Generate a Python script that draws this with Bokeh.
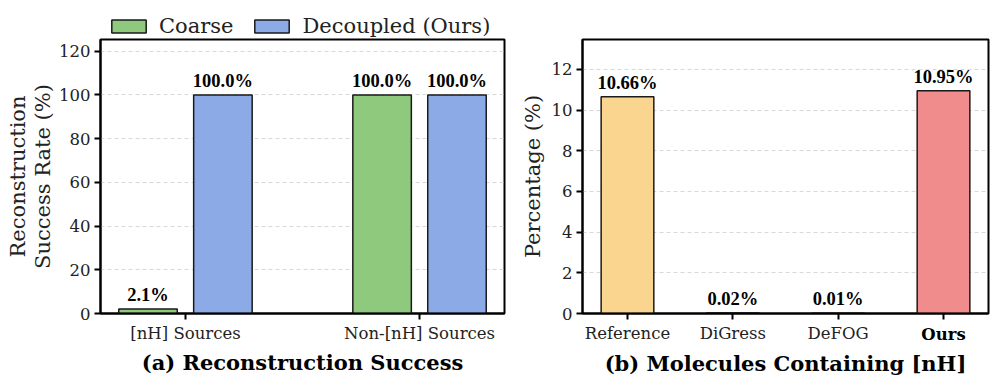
from bokeh.plotting import figure
from bokeh.models import (ColumnDataSource, Range1d, FixedTicker, LabelSet, Legend,
                          LegendItem, Title, LinearAxis)
from bokeh.layouts import row, column
from bokeh.embed import file_html
from bokeh.resources import INLINE

# ---- data ----
groups = ["[nH] Sources", "Non-[nH] Sources"]
coarse = [2.1, 100.0]
decoupled = [100.0, 100.0]

methods = ["Reference", "DiGress", "DeFOG", "Ours"]
percent = [10.66, 0.02, 0.01, 10.95]

yticks_a = [0, 20, 40, 60, 80, 100, 120]
yticks_b = [0, 2, 4, 6, 8, 10, 12]

GREEN = "#8fc97e"
BLUE = "#8cabe6"
YELLOW = "#f9d590"
RED = "#f08c8c"
method_colors = [YELLOW, "#aaaaaa", "#aaaaaa", RED]

FONT = "DejaVu Serif"
EDGE = "#1a1a1a"
TICK_FS = "16.5px"
VAL_FS = "18.5px"


def style(p):
    p.outline_line_color = "black"
    p.outline_line_width = 2
    p.outline_line_alpha = 1
    for ax in (p.xaxis[0], p.yaxis[0]):
        ax.axis_line_width = 2
        ax.axis_line_color = "black"
        ax.major_tick_out = 6
        ax.major_tick_in = 0
        ax.major_tick_line_width = 2
        ax.minor_tick_out = 0
        ax.minor_tick_in = 0
        ax.major_label_standoff = 4
        ax.major_label_text_font = FONT
        ax.major_label_text_font_size = TICK_FS
        ax.major_label_text_color = "#222222"
        ax.axis_label_text_font = FONT
        ax.axis_label_text_font_size = "21px"
        ax.axis_label_text_line_height = 1.05
        ax.axis_label_standoff = 1
        ax.axis_label_text_font_style = "normal"
        ax.axis_label_text_color = "#222222"
    p.xgrid.visible = False
    p.ygrid.grid_line_color = "#d0d0d0"
    p.ygrid.grid_line_dash = "4 3"
    p.ygrid.grid_line_alpha = 0.8
    p.ygrid.grid_line_width = 1
    p.background_fill_color = "white"
    p.border_fill_color = "white"


idx_a = list(range(len(groups)))
off = 0.16
src_c = ColumnDataSource(dict(x=[i - off for i in idx_a], top=coarse,
                              lab=[f"{v:.1f}%" for v in coarse]))
src_d = ColumnDataSource(dict(x=[i + off for i in idx_a], top=decoupled,
                              lab=[f"{v:.1f}%" for v in decoupled]))

# ---- legend strip above panel (a) (hidden renderers, legend only) ----
lf = figure(width=508, height=38, output_backend="svg", toolbar_location=None,
            x_axis_type=None, y_axis_type=None, x_range=Range1d(-0.363, 1.363),
            y_range=Range1d(0, 125.4), min_border=0)
lf.outline_line_color = None
lf.xgrid.visible = False
lf.ygrid.visible = False
lg_c = lf.vbar(x="x", top="top", width=0.25, source=src_c, fill_color=GREEN,
               line_color=EDGE, line_width=1.5, visible=False)
lg_d = lf.vbar(x="x", top="top", width=0.25, source=src_d, fill_color=BLUE,
               line_color=EDGE, line_width=1.5, visible=False)
leg = Legend(items=[LegendItem(label="Coarse", renderers=[lg_c]),
                    LegendItem(label="Decoupled (Ours)", renderers=[lg_d])],
             orientation="horizontal", location=(7, 0),
             glyph_width=43, glyph_height=16, label_standoff=9, spacing=17,
             padding=0, margin=0, border_line_alpha=0, background_fill_alpha=0,
             inactive_fill_alpha=0, click_policy="none",
             label_text_font=FONT, label_text_font_size="21px",
             label_text_color="#222222")
lf.add_layout(leg, "center")

# ---- panel (a) ----
pa = figure(width=508, height=342, output_backend="svg", toolbar_location=None,
            x_range=Range1d(-0.363, 1.363), y_range=Range1d(0, 125.4),
            min_border_left=100, min_border_right=4, min_border_top=1,
            min_border_bottom=67)
style(pa)
pa.vbar(x="x", top="top", width=0.25, source=src_c, fill_color=GREEN,
        line_color=EDGE, line_width=1.5)
pa.vbar(x="x", top="top", width=0.25, source=src_d, fill_color=BLUE,
        line_color=EDGE, line_width=1.5)
for s in (src_c, src_d):
    pa.add_layout(LabelSet(x="x", y="top", text="lab", source=s, y_offset=8,
                           text_align="center", text_baseline="alphabetic",
                           text_font=FONT, text_font_style="bold",
                           text_font_size=VAL_FS, text_color="black"))
pa.xaxis.ticker = FixedTicker(ticks=idx_a)
pa.xaxis.major_label_overrides = {i: g for i, g in enumerate(groups)}
pa.yaxis.ticker = FixedTicker(ticks=yticks_a)
pa.yaxis.axis_label = "Reconstruction\nSuccess Rate (%)"
pa.add_layout(Title(text="(a) Reconstruction Success", align="center", standoff=4,
                    text_font=FONT, text_font_style="bold",
                    text_font_size="21px", text_color="black"), "below")

# ---- panel (b) ----
pb = figure(width=484, height=380, output_backend="svg", toolbar_location=None,
            x_range=Range1d(-0.427, 3.427), y_range=Range1d(0, 13.47),
            min_border_left=74, min_border_right=4, min_border_top=39,
            min_border_bottom=67)
style(pb)
pb.yaxis.axis_label_standoff = 4
idx_b = list(range(len(methods)))
src_b = ColumnDataSource(dict(x=idx_b, top=percent, color=method_colors,
                              lab=[f"{v:.2f}%" for v in percent]))
pb.vbar(x="x", top="top", width=0.5, source=src_b, fill_color="color",
        line_color=EDGE, line_width=1.5)
pb.add_layout(LabelSet(x="x", y="top", text="lab", source=src_b, y_offset=8,
                       text_align="center", text_baseline="alphabetic",
                       text_font=FONT, text_font_style="bold",
                       text_font_size=VAL_FS, text_color="black"))
pb.xaxis.ticker = FixedTicker(ticks=idx_b)
overrides = {i: m for i, m in enumerate(methods)}
overrides[3] = ""
pb.xaxis.major_label_overrides = overrides
# bold label for the last category, lifted onto the same line as the others
bold_axis = LinearAxis(ticker=FixedTicker(ticks=[3]),
                       major_label_overrides={3: methods[3]},
                       axis_line_color=None, major_tick_line_color=None,
                       minor_tick_line_color=None, major_tick_out=0,
                       major_tick_in=0, minor_tick_out=0, minor_tick_in=0,
                       major_label_standoff=-21,
                       major_label_text_font=FONT,
                       major_label_text_font_style="bold",
                       major_label_text_font_size=TICK_FS,
                       major_label_text_color="black")
pb.add_layout(bold_axis, "below")
pb.yaxis.ticker = FixedTicker(ticks=yticks_b)
pb.yaxis.axis_label = "Percentage (%)"
pb.add_layout(Title(text="(b) Molecules Containing [nH]", align="center", standoff=4,
                    text_font=FONT, text_font_style="bold",
                    text_font_size="21px", text_color="black"), "below")

layout = row(column(lf, pa), pb)
open("out.html", "w").write(file_html(layout, INLINE))
